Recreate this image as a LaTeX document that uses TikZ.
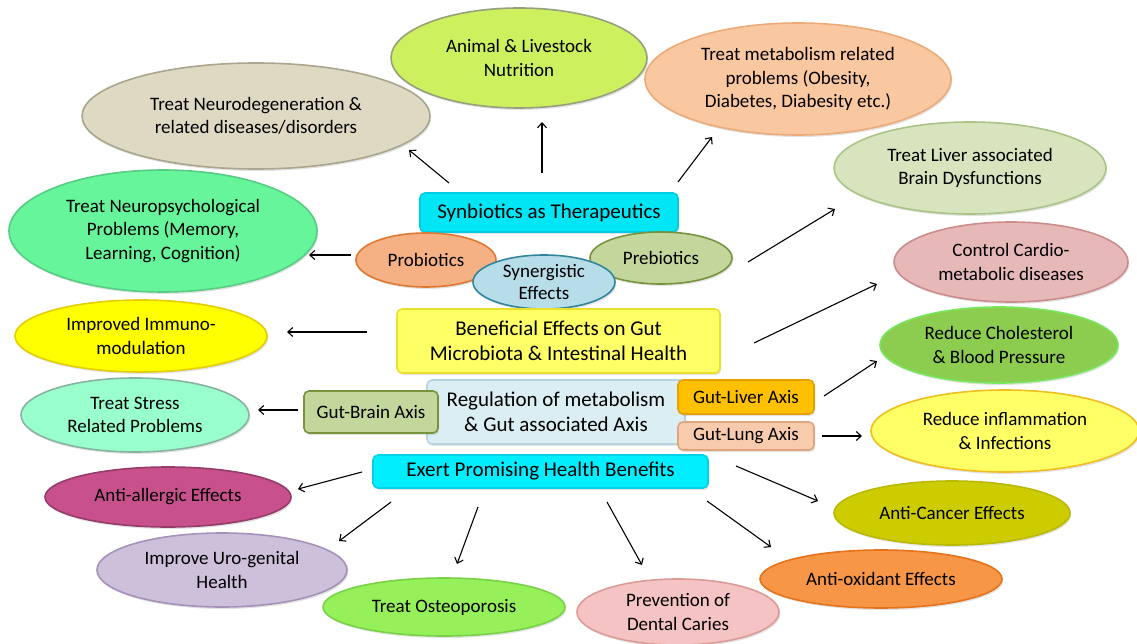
\documentclass[tikz,border=0pt]{standalone}
\usepackage{fontspec}
\setmainfont{Carlito}
\usetikzlibrary{arrows.meta,calc,shapes.geometric,shadows}
\definecolor{animalF}{RGB}{205,240,95}\definecolor{animalD}{RGB}{150,160,125}
\definecolor{metaF}{RGB}{250,200,160}\definecolor{metaD}{RGB}{235,170,120}
\definecolor{neuroF}{RGB}{221,217,195}\definecolor{neuroD}{RGB}{170,165,140}
\definecolor{npsyF}{RGB}{102,245,155}\definecolor{npsyD}{RGB}{85,205,130}
\definecolor{liverF}{RGB}{215,228,190}\definecolor{liverD}{RGB}{170,195,135}
\definecolor{cardioF}{RGB}{230,185,184}\definecolor{cardioD}{RGB}{205,140,140}
\definecolor{cholF}{RGB}{140,205,80}\definecolor{cholD}{RGB}{120,230,90}
\definecolor{inflF}{RGB}{255,255,102}\definecolor{inflD}{RGB}{240,190,30}
\definecolor{cancF}{RGB}{204,204,0}\definecolor{cancD}{RGB}{185,185,0}
\definecolor{antioxF}{RGB}{247,150,70}\definecolor{antioxD}{RGB}{230,115,25}
\definecolor{dentF}{RGB}{245,195,195}\definecolor{dentD}{RGB}{220,155,150}
\definecolor{osteoF}{RGB}{150,240,90}\definecolor{osteoD}{RGB}{120,210,70}
\definecolor{uroF}{RGB}{204,192,218}\definecolor{uroD}{RGB}{165,145,185}
\definecolor{allF}{RGB}{200,80,140}\definecolor{allD}{RGB}{150,60,105}
\definecolor{stressF}{RGB}{153,255,204}\definecolor{stressD}{RGB}{135,180,160}
\definecolor{immF}{RGB}{255,255,0}\definecolor{immD}{RGB}{230,205,0}
\definecolor{probF}{RGB}{245,177,131}\definecolor{probD}{RGB}{225,120,50}
\definecolor{synF}{RGB}{183,221,232}\definecolor{synD}{RGB}{49,133,156}
\definecolor{prebF}{RGB}{195,214,155}\definecolor{prebD}{RGB}{119,147,60}
\definecolor{therF}{RGB}{0,230,245}\definecolor{therD}{RGB}{0,205,225}
\definecolor{benF}{RGB}{255,255,102}\definecolor{benD}{RGB}{235,225,40}
\definecolor{regF}{RGB}{218,238,243}\definecolor{regD}{RGB}{185,212,225}
\definecolor{gliverF}{RGB}{255,192,0}\definecolor{gliverD}{RGB}{230,160,0}
\definecolor{glungF}{RGB}{248,203,173}\definecolor{glungD}{RGB}{225,165,125}
\definecolor{exertF}{RGB}{0,238,255}\definecolor{exertD}{RGB}{0,210,232}
\begin{document}
\begin{tikzpicture}[x=1pt,y=-1pt,
  shd/.style={drop shadow={opacity=0.22, shadow xshift=1.2pt, shadow yshift=-2pt}},
  ell/.style={ellipse, draw, line width=1.6pt, inner sep=0pt, outer sep=0pt, align=center, shd, font=\fontsize{19}{23.5}\selectfont},
  cbox/.style={rectangle, rounded corners=5pt, draw, line width=1.6pt, inner sep=0pt, outer sep=0pt, align=center, shd, font=\fontsize{21}{25.5}\selectfont},
  sbox/.style={cbox, font=\fontsize{19}{23}\selectfont},
  arr/.style={-{Straight Barb[length=5pt,width=9pt]}, line width=1.1pt, black}]
\fill[white] (0,0) rectangle (1137,644);
\useasboundingbox (0,0) rectangle (1137,644);

% outer ellipses
\node[ell, fill=animalF, draw=animalD, minimum width=256pt, minimum height=100pt] (animal) at (519,58) {Animal \& Livestock\\Nutrition};
\node[ell, fill=neuroF, draw=neuroD, minimum width=348pt, minimum height=106pt] (neuro) at (256,116) {Treat Neurodegeneration \&\\related diseases/disorders};
\node[ell, fill=metaF, draw=metaD, minimum width=306pt, minimum height=112pt] (meta) at (798,79) {Treat metabolism related\\problems (Obesity,\\Diabetes, Diabesity etc.)};
\node[ell, fill=npsyF, draw=npsyD, minimum width=308pt, minimum height=122pt] (npsy) at (163,231) {Treat Neuropsychological\\Problems (Memory,\\Learning, Cognition)};
\node[ell, fill=liverF, draw=liverD, minimum width=272pt, minimum height=92pt] (liverE) at (970,168) {Treat Liver associated\\Brain Dysfunctions};
\node[ell, fill=cardioF, draw=cardioD, minimum width=234pt, minimum height=80pt] (cardio) at (1011,262) {Control Cardio-\\metabolic diseases};
\node[ell, fill=cholF, draw=cholD, minimum width=238pt, minimum height=76pt] (chol) at (999,345) {Reduce Cholesterol\\\& Blood Pressure};
\node[ell, fill=inflF, draw=inflD, minimum width=268pt, minimum height=82pt] (infl) at (1005,431) {Reduce inflammation\\\& Infections};
\node[ell, fill=cancF, draw=cancD, minimum width=236pt, minimum height=64pt] (canc) at (952,513) {Anti-Cancer Effects};
\node[ell, fill=antioxF, draw=antioxD, minimum width=242pt, minimum height=58pt] (antiox) at (881,579) {Anti-oxidant Effects};
\node[ell, fill=dentF, draw=dentD, minimum width=202pt, minimum height=66pt] (dent) at (678,612) {Prevention of\\Dental Caries};
\node[ell, fill=osteoF, draw=osteoD, minimum width=242pt, minimum height=58pt] (osteo) at (444,607) {Treat Osteoporosis};
\node[ell, fill=uroF, draw=uroD, minimum width=250pt, minimum height=74pt] (uro) at (222,570) {Improve Uro-genital\\Health};
\node[ell, fill=allF, draw=allD, minimum width=246pt, minimum height=60pt] (all) at (168,497) {Anti-allergic Effects};
\node[ell, fill=stressF, draw=stressD, minimum width=228pt, minimum height=74pt] (stress) at (135,415) {Treat Stress\\Related Problems};
\node[ell, fill=immF, draw=immD, minimum width=252pt, minimum height=72pt] (imm) at (141,336) {Improved Immuno-\\modulation};

% central boxes
\node[cbox, fill=therF, draw=therD, minimum width=258pt, minimum height=39pt] (ther) at (549,212.5) {Synbiotics as Therapeutics};
\node[ell, fill=probF, draw=probD, minimum width=140pt, minimum height=54pt] (prob) at (426,260) {Probiotics};
\node[ell, fill=prebF, draw=prebD, minimum width=142pt, minimum height=52pt] (preb) at (661,258) {Prebiotics};
\node[ell, fill=synF, draw=synD, minimum width=142pt, minimum height=54pt, font=\fontsize{19}{22.5}\selectfont] (syne) at (544,282) {Synergistic\\Effects};
\node[cbox, fill=benF, draw=benD, minimum width=323pt, minimum height=64pt] (ben) at (558.5,341) {Beneficial Effects on Gut\\Microbiota \& Intestinal Health};
\node[cbox, fill=regF, draw=regD, minimum width=258pt, minimum height=64pt] (reg) at (556,412) {Regulation of metabolism\\\& Gut associated Axis};
\node[sbox, fill=gliverF, draw=gliverD, minimum width=136pt, minimum height=34pt] (gliver) at (746,397) {Gut-Liver Axis};
\node[sbox, fill=glungF, draw=glungD, minimum width=136pt, minimum height=28pt] (glung) at (746,436) {Gut-Lung Axis};
\node[sbox, fill=prebF, draw=prebD, minimum width=134pt, minimum height=42pt] (gbrain) at (371,412) {Gut-Brain Axis};
\node[cbox, fill=exertF, draw=exertD, minimum width=335pt, minimum height=33pt] (exert) at (540.5,471.5) {Exert Promising Health Benefits};

% connectors
\draw[arr] ($(ther.north west)+(29,-10)$) -- ($(neuro.east)+(-21,34)$);
\draw[arr] ($(ther.north)+(-7,-20)$) -- ($(animal.south)+(23,14)$);
\draw[arr] ($(ther.north east)+(0,-11)$) -- ($(meta.south)+(-86,2)$);
\draw[arr] ($(prob.west)+(-5,-5)$) -- ($(npsy.east)+(-8,24)$);
\draw[arr] ($(preb.east)+(16,4)$) -- ($(liverE.west)+(1,41)$);
\draw[arr] ($(ben.east)+(34,2)$) -- ($(cardio.west)+(-17,22)$);
\draw[arr] ($(ben.west)+(-30,-9)$) -- ($(imm.east)+(20,-4)$);
\draw[arr] ($(gbrain.west)+(-6,-2)$) -- ($(stress.east)+(9,-5)$);
\draw[arr] ($(gliver.east)+(10,-1)$) -- ($(chol.west)+(-3,16)$);
\draw[arr] ($(glung.east)+(8,0)$) -- ($(infl.west)+(-9,5)$);
\draw[arr] ($(exert.west)+(-11,0.5)$) -- ($(all.east)+(7,-8)$);
\draw[arr] ($(exert.south west)+(18,14)$) -- ($(uro.east)+(-8,-29)$);
\draw[arr] ($(exert.south)+(-62.5,19)$) -- ($(osteo.north)+(13,-14)$);
\draw[arr] ($(exert.south)+(66.5,14)$) -- ($(dent.north)+(-36,-14)$);
\draw[arr] ($(exert.south east)+(-1,13)$) -- ($(antiox.north)+(-110,-3)$);
\draw[arr] ($(exert.east)+(28,-5.5)$) -- ($(canc.west)+(-16,-12)$);
\end{tikzpicture}
\end{document}
